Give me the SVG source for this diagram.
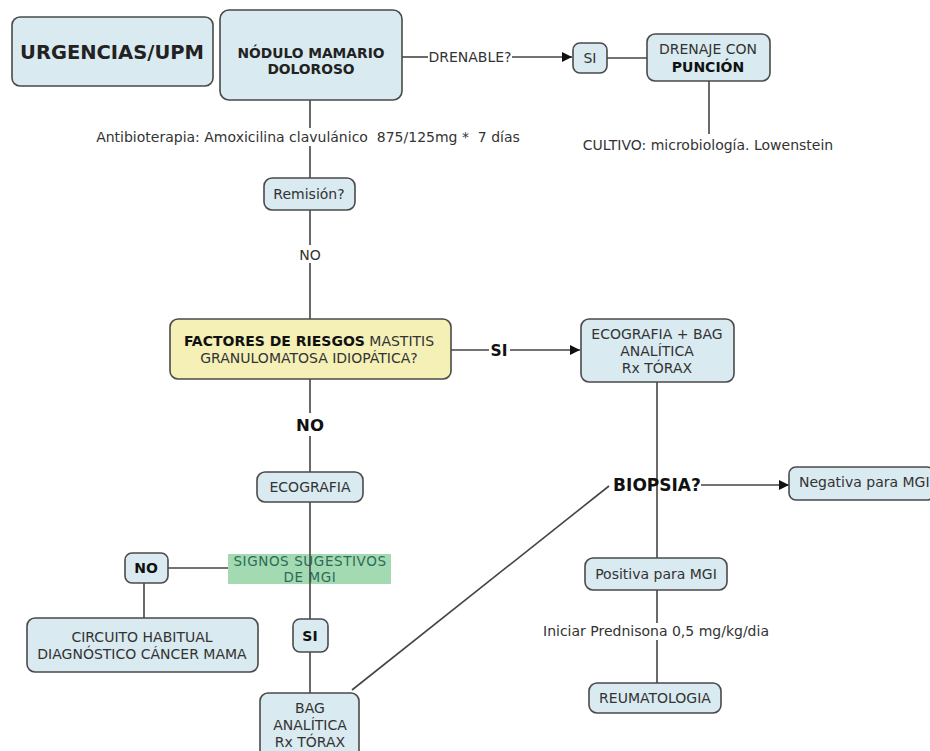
<svg xmlns="http://www.w3.org/2000/svg" width="930" height="751" viewBox="0 0 930 751">
<defs>
<marker id="arr" viewBox="0 0 10 10" refX="10" refY="5" markerWidth="10" markerHeight="10" markerUnits="userSpaceOnUse" orient="auto">
<path d="M0,0 L10,5 L0,10 z" fill="#111"/>
</marker>
<style>
.box{fill:#d9eaf0;stroke:#4a4a4a;stroke-width:1.6}
.yel{fill:#f4f0b6;stroke:#4a4a4a;stroke-width:1.6}
.grn{fill:#a3dab2;stroke:none}
.ln{stroke:#444;stroke-width:1.6;fill:none}
text{font-family:"DejaVu Sans","Liberation Sans",sans-serif;fill:#333;text-anchor:middle;white-space:pre}
.t{font-size:14px}
.b{font-weight:bold;fill:#111}
.lbl{font-size:14px;fill:#333}
</style>
</defs>
<rect width="930" height="751" fill="#fff"/>

<g id="signos">
<rect class="grn" x="228" y="554" width="163" height="30"/>
<text x="310" y="566" style="font-size:13.5px;letter-spacing:0.6px;fill:#2e6b58">SIGNOS SUGESTIVOS</text>
<text x="310" y="582" style="font-size:13.5px;letter-spacing:0.6px;fill:#2e6b58">DE MGI</text>
</g>

<g id="connectors">
<line class="ln" x1="402" y1="57" x2="428" y2="57"/>
<line class="ln" x1="512" y1="57" x2="572" y2="57" marker-end="url(#arr)"/>
<line class="ln" x1="607" y1="58" x2="647" y2="58"/>
<line class="ln" x1="709" y1="81" x2="709" y2="134"/>
<line class="ln" x1="310" y1="100" x2="310" y2="128"/>
<line class="ln" x1="310" y1="146" x2="310" y2="178"/>
<line class="ln" x1="310" y1="210" x2="310" y2="245"/>
<line class="ln" x1="310" y1="263" x2="310" y2="319"/>
<line class="ln" x1="451" y1="350" x2="489" y2="350"/>
<line class="ln" x1="510" y1="350" x2="580" y2="350" marker-end="url(#arr)"/>
<line class="ln" x1="310" y1="379" x2="310" y2="413"/>
<line class="ln" x1="310" y1="436" x2="310" y2="472"/>
<line class="ln" x1="310" y1="502" x2="310" y2="619"/>
<line class="ln" x1="168" y1="568" x2="228" y2="568"/>
<line class="ln" x1="144" y1="583" x2="144" y2="618"/>
<line class="ln" x1="310" y1="652" x2="310" y2="693"/>
<line class="ln" x1="352" y1="690" x2="609" y2="486"/>
<line class="ln" x1="657" y1="382" x2="657" y2="558"/>
<line class="ln" x1="701" y1="485" x2="789" y2="485" marker-end="url(#arr)"/>
<line class="ln" x1="657" y1="590" x2="657" y2="623"/>
<line class="ln" x1="657" y1="640" x2="657" y2="683"/>
<text class="lbl" x="470" y="62">DRENABLE?</text>
<text class="lbl" x="308" y="142">Antibioterapia: Amoxicilina clavulánico  875/125mg *  7 días</text>
<text class="lbl" x="708" y="150">CULTIVO: microbiología. Lowenstein</text>
<text class="lbl" x="310" y="260">NO</text>
<text class="b" x="499" y="356" style="font-size:15.5px">SI</text>
<text class="b" x="310" y="431" style="font-size:16.5px">NO</text>
<text class="b" x="657" y="491" style="font-size:17px">BIOPSIA?</text>
<text class="lbl" x="656" y="636">Iniciar Prednisona 0,5 mg/kg/dia</text>
</g>

<g id="urgencias">
<rect class="box" x="12" y="17" width="201" height="69" rx="8"/>
<text class="b" x="112" y="59" style="font-size:19.5px;fill:#222">URGENCIAS/UPM</text>
</g>
<g id="nodulo">
<rect class="box" x="220" y="10" width="182" height="90" rx="9"/>
<text class="b" x="311" y="58" style="font-size:13.8px;fill:#222">NÓDULO MAMARIO</text>
<text class="b" x="311" y="74" style="font-size:13.8px;fill:#222">DOLOROSO</text>
</g>
<g id="si1">
<rect class="box" x="573" y="43" width="34" height="30" rx="7"/>
<text class="t" x="590" y="63">SI</text>
</g>
<g id="drenaje">
<rect class="box" x="647" y="34" width="123" height="47" rx="8"/>
<text class="t" x="708" y="54">DRENAJE CON</text>
<text class="t b" x="708" y="72">PUNCIÓN</text>
</g>
<g id="remision">
<rect class="box" x="264" y="178" width="91" height="32" rx="8"/>
<text class="t" x="309" y="199">Remisión?</text>
</g>
<g id="factores">
<rect class="yel" x="170" y="319" width="281" height="60" rx="8"/>
<text class="t" x="309" y="346"><tspan class="b">FACTORES DE RIESGOS</tspan> MASTITIS</text>
<text class="t" x="309" y="363">GRANULOMATOSA IDIOPÁTICA?</text>
</g>
<g id="ecobag">
<rect class="box" x="581" y="319" width="153" height="63" rx="8"/>
<text class="t" x="657" y="339">ECOGRAFIA + BAG</text>
<text class="t" x="657" y="356">ANALÍTICA</text>
<text class="t" x="657" y="373">Rx TÓRAX</text>
</g>
<g id="ecografia">
<rect class="box" x="257" y="472" width="106" height="30" rx="8"/>
<text class="t" x="310" y="492">ECOGRAFIA</text>
</g>
<g id="negativa">
<rect class="box" x="789" y="467" width="145" height="33" rx="7"/>
<text class="t" x="799" y="487" style="text-anchor:start">Negativa para MGI</text>
</g>
<g id="no2">
<rect class="box" x="125" y="553" width="43" height="30" rx="7"/>
<text class="t b" x="146" y="573">NO</text>
</g>
<g id="positiva">
<rect class="box" x="585" y="558" width="142" height="32" rx="8"/>
<text class="t" x="656" y="579">Positiva para MGI</text>
</g>
<g id="circuito">
<rect class="box" x="27" y="618" width="231" height="54" rx="8"/>
<text class="t" x="142" y="642">CIRCUITO HABITUAL</text>
<text class="t" x="142" y="659">DIAGNÓSTICO CÁNCER MAMA</text>
</g>
<g id="si2">
<rect class="box" x="293" y="619" width="35" height="33" rx="7"/>
<text class="t b" x="310" y="641">SI</text>
</g>
<g id="reuma">
<rect class="box" x="589" y="683" width="132" height="30" rx="8"/>
<text class="t" x="655" y="703">REUMATOLOGIA</text>
</g>
<g id="bag">
<rect class="box" x="260" y="693" width="99" height="70" rx="8"/>
<text class="t" x="310" y="713">BAG</text>
<text class="t" x="310" y="730">ANALÍTICA</text>
<text class="t" x="310" y="747">Rx TÓRAX</text>
</g>
</svg>
